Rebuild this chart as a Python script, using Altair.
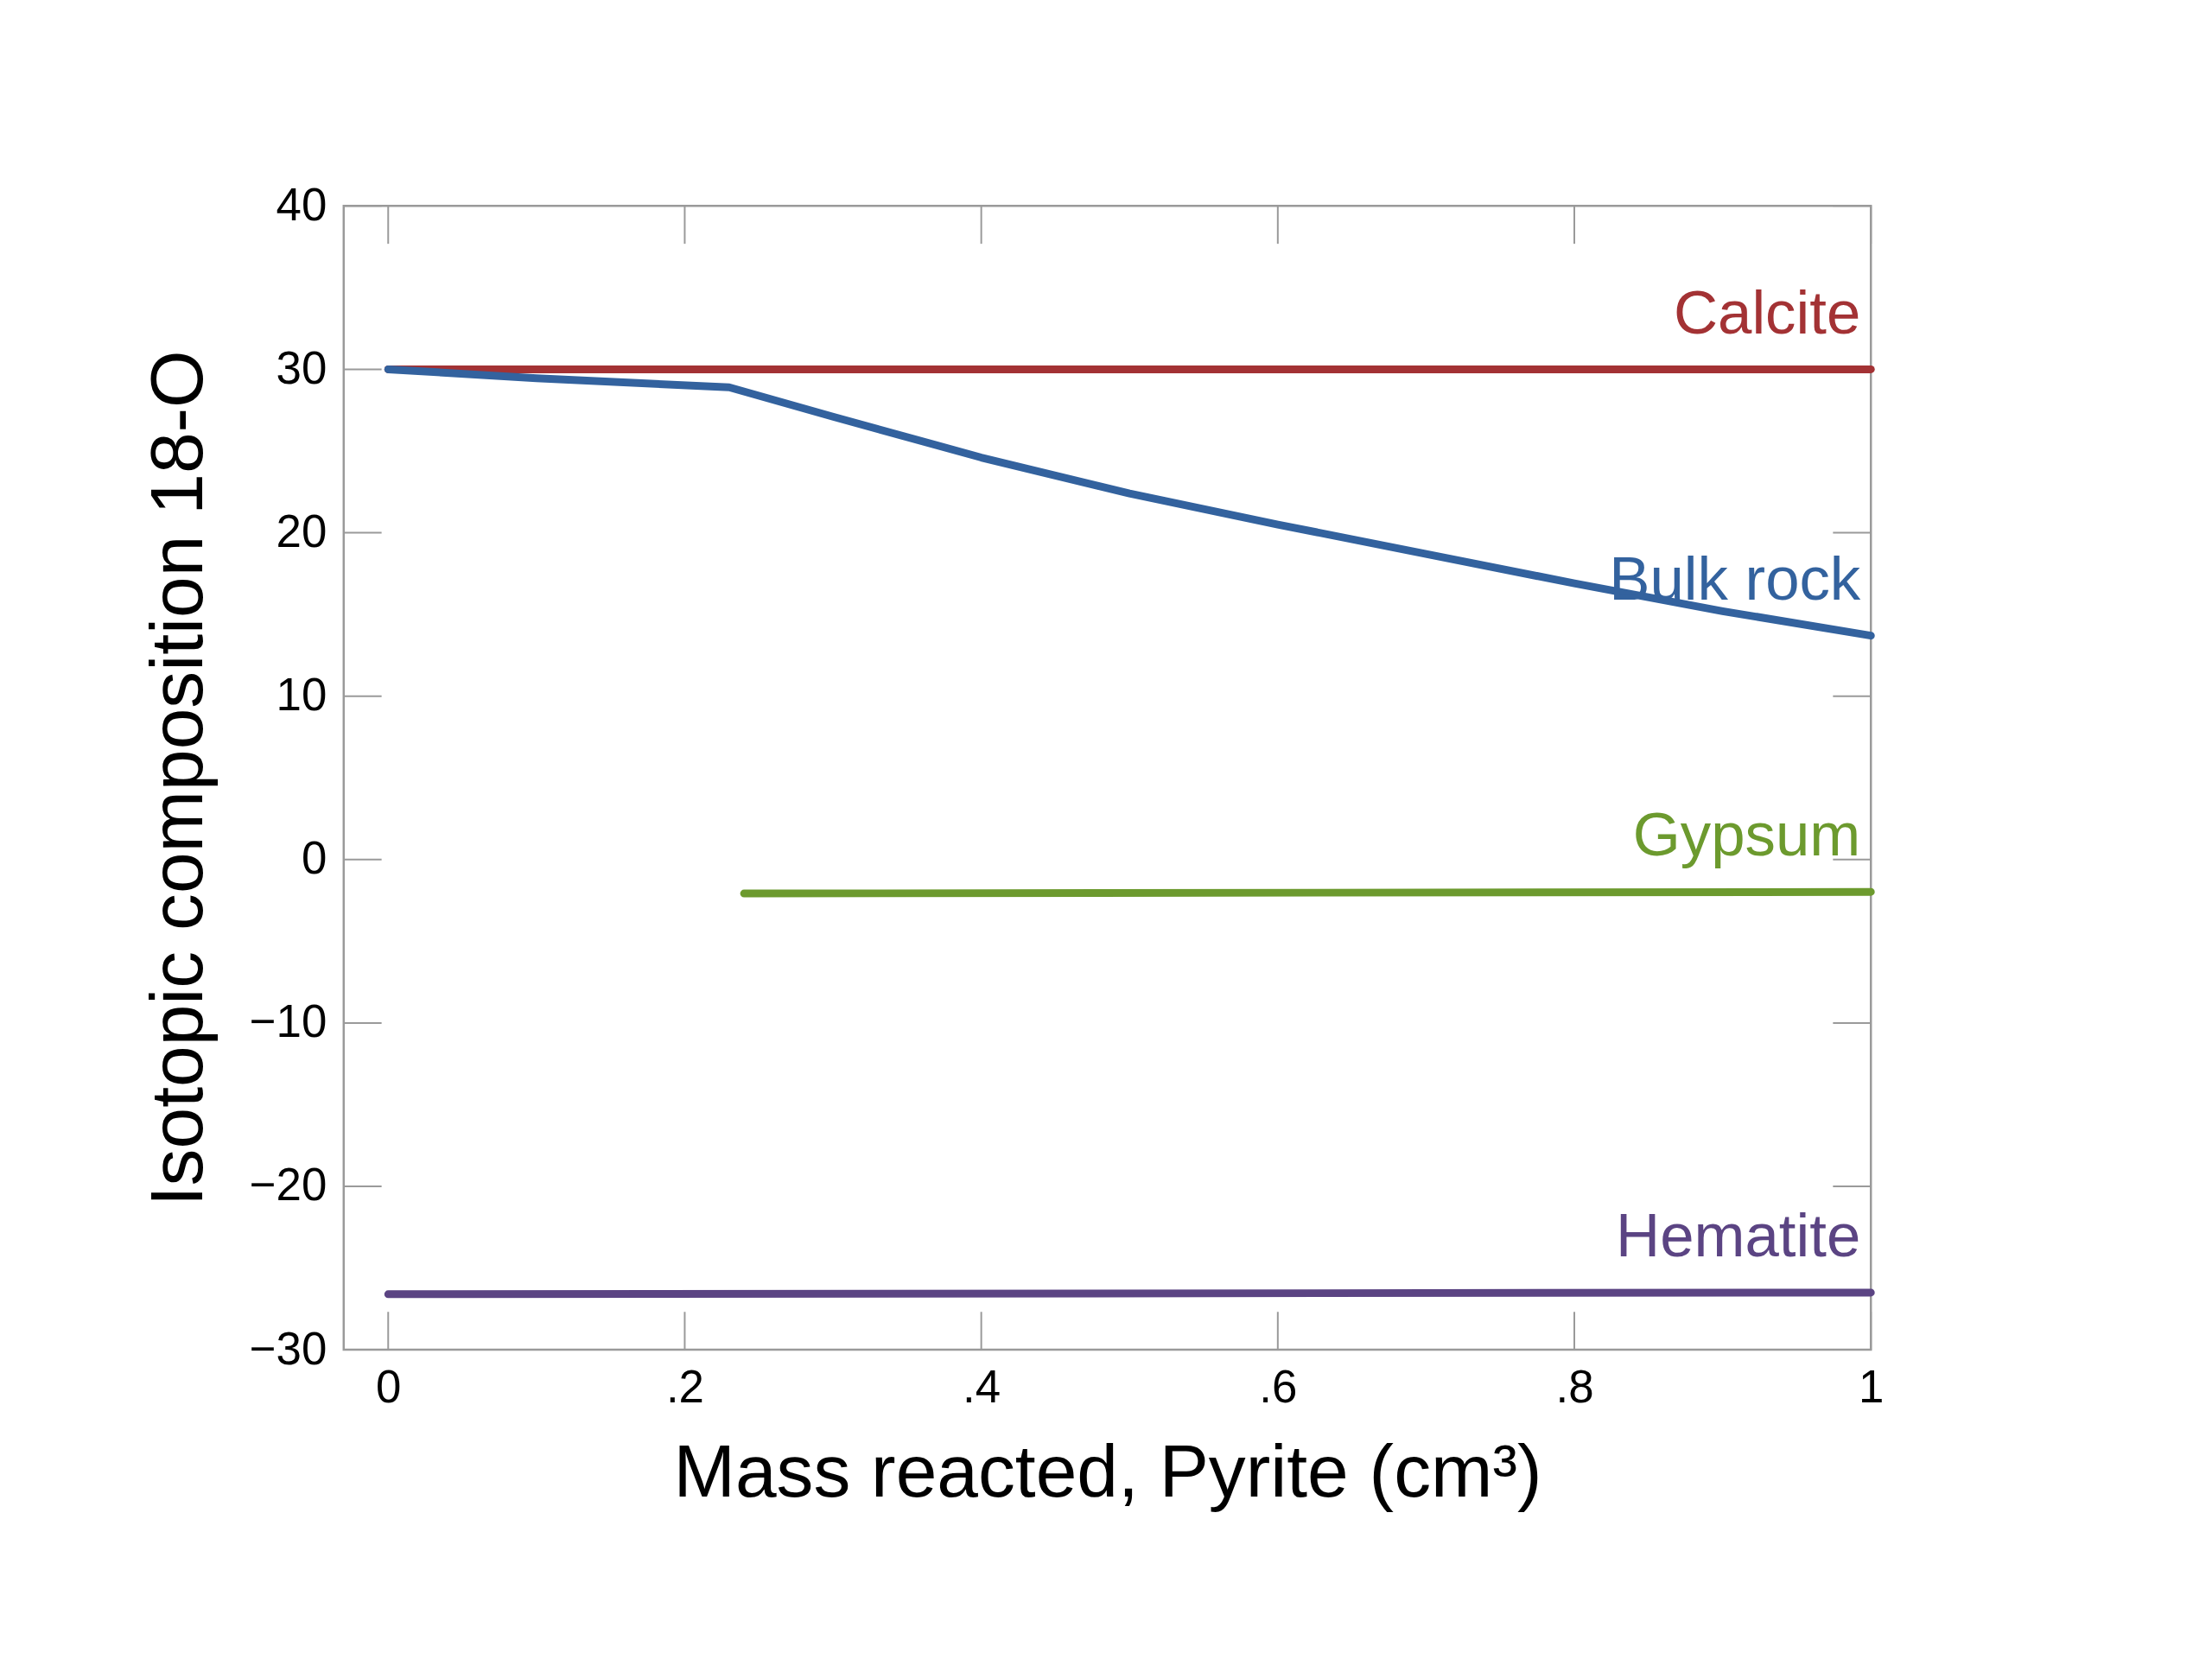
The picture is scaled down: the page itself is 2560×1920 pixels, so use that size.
import altair as alt
import pandas as pd

# valores
calcite_x = [0.0, 1.0]
calcite_y = [30.0, 30.0]

bulk_x = [0.0, 0.1, 0.23, 0.3, 0.4, 0.5, 0.6, 0.7, 0.8, 0.9, 1.0]
bulk_y = [30.0, 29.45, 28.9, 27.1, 24.6, 22.4, 20.5, 18.7, 16.9, 15.2, 13.7]

gypsum_x = [0.24, 1.0]
gypsum_y = [-2.08, -1.98]

hematite_x = [0.0, 1.0]
hematite_y = [-26.6, -26.5]

series_names = ["Calcite", "Bulk rock", "Gypsum", "Hematite"]
series_colors = ["#a33234", "#33629e", "#6c9a2e", "#5b4483"]

x_ticks = [0, 0.2, 0.4, 0.6, 0.8, 1]
y_ticks = [-30, -20, -10, 0, 10, 20, 30, 40]

W, H = 1773, 1328
TICK = 44
FONT = "Liberation Sans"
GRAY = "#9a9a9a"

# tabela longa para o Altair
frames = []
for name, xs, ys in zip(series_names,
                        [calcite_x, bulk_x, gypsum_x, hematite_x],
                        [calcite_y, bulk_y, gypsum_y, hematite_y]):
    frames.append(pd.DataFrame({"serie": name, "x": xs, "y": ys}))
df = pd.concat(frames, ignore_index=True)
df_last = df.groupby("serie", sort=False).tail(1)

x_scale = alt.Scale(domain=[-0.03, 1.0], nice=False, zero=False)
y_scale = alt.Scale(domain=[-30, 40], nice=False, zero=False)
color = alt.Color("serie:N", scale=alt.Scale(domain=series_names, range=series_colors), legend=None)

x_axis = alt.Axis(
    values=x_ticks,
    labelExpr="datum.value == 0 ? '0' : datum.value == 1 ? '1' : substring(format(datum.value, '.1f'), 1)",
    title="Mass reacted, Pyrite (cm³)",
    titleY=170, titleBaseline="alphabetic",
    labelPadding=19, labelFlush=False,
)
y_axis = alt.Axis(
    values=y_ticks, format="d",
    title="Isotopic composition 18-O",
    titleX=-165, titleY=H / 2, titleAngle=270,
    titleBaseline="alphabetic", titleAlign="center",
    labelPadding=20, labelFlush=False,
)

lines = alt.Chart(df).mark_line(strokeWidth=9, strokeCap="round", strokeJoin="round").encode(
    x=alt.X("x:Q", scale=x_scale, axis=x_axis),
    y=alt.Y("y:Q", scale=y_scale, axis=y_axis),
    color=color,
    detail="serie:N",
)

labels = alt.Chart(df_last).mark_text(
    align="right", baseline="alphabetic", dx=-12, dy=-42, fontSize=71, font=FONT
).encode(
    x=alt.X("x:Q", scale=x_scale),
    y=alt.Y("y:Q", scale=y_scale),
    text="serie:N",
    color=color,
)

# marcas de escala para dentro, nos quatro lados
df_xt = pd.DataFrame({"x": x_ticks})
df_yt = pd.DataFrame({"y": y_ticks})
tick_style = dict(color=GRAY, strokeWidth=2)
top_ticks = alt.Chart(df_xt).mark_rule(**tick_style).encode(
    x=alt.X("x:Q", scale=x_scale), y=alt.value(0), y2=alt.value(TICK))
bottom_ticks = alt.Chart(df_xt).mark_rule(**tick_style).encode(
    x=alt.X("x:Q", scale=x_scale), y=alt.value(H - TICK), y2=alt.value(H))
left_ticks = alt.Chart(df_yt).mark_rule(**tick_style).encode(
    y=alt.Y("y:Q", scale=y_scale), x=alt.value(0), x2=alt.value(TICK))
right_ticks = alt.Chart(df_yt).mark_rule(**tick_style).encode(
    y=alt.Y("y:Q", scale=y_scale), x=alt.value(W - TICK), x2=alt.value(W))

chart = alt.layer(
    top_ticks, bottom_ticks, left_ticks, right_ticks, lines, labels
).properties(
    width=W, height=H,
    autosize=alt.AutoSizeParams(type="none"),
    padding={"left": 391, "top": 228, "right": 388, "bottom": 356},
    background="white",
).configure_view(
    stroke=GRAY, strokeWidth=2.5
).configure_axis(
    domain=False, ticks=False, tickSize=0, grid=False,
    labelFont=FONT, labelFontSize=53, labelColor="black",
    titleFont=FONT, titleFontSize=86, titleFontWeight="normal", titleColor="black",
)

chart.save("out.html", embed_options={"renderer": "svg", "actions": False})
